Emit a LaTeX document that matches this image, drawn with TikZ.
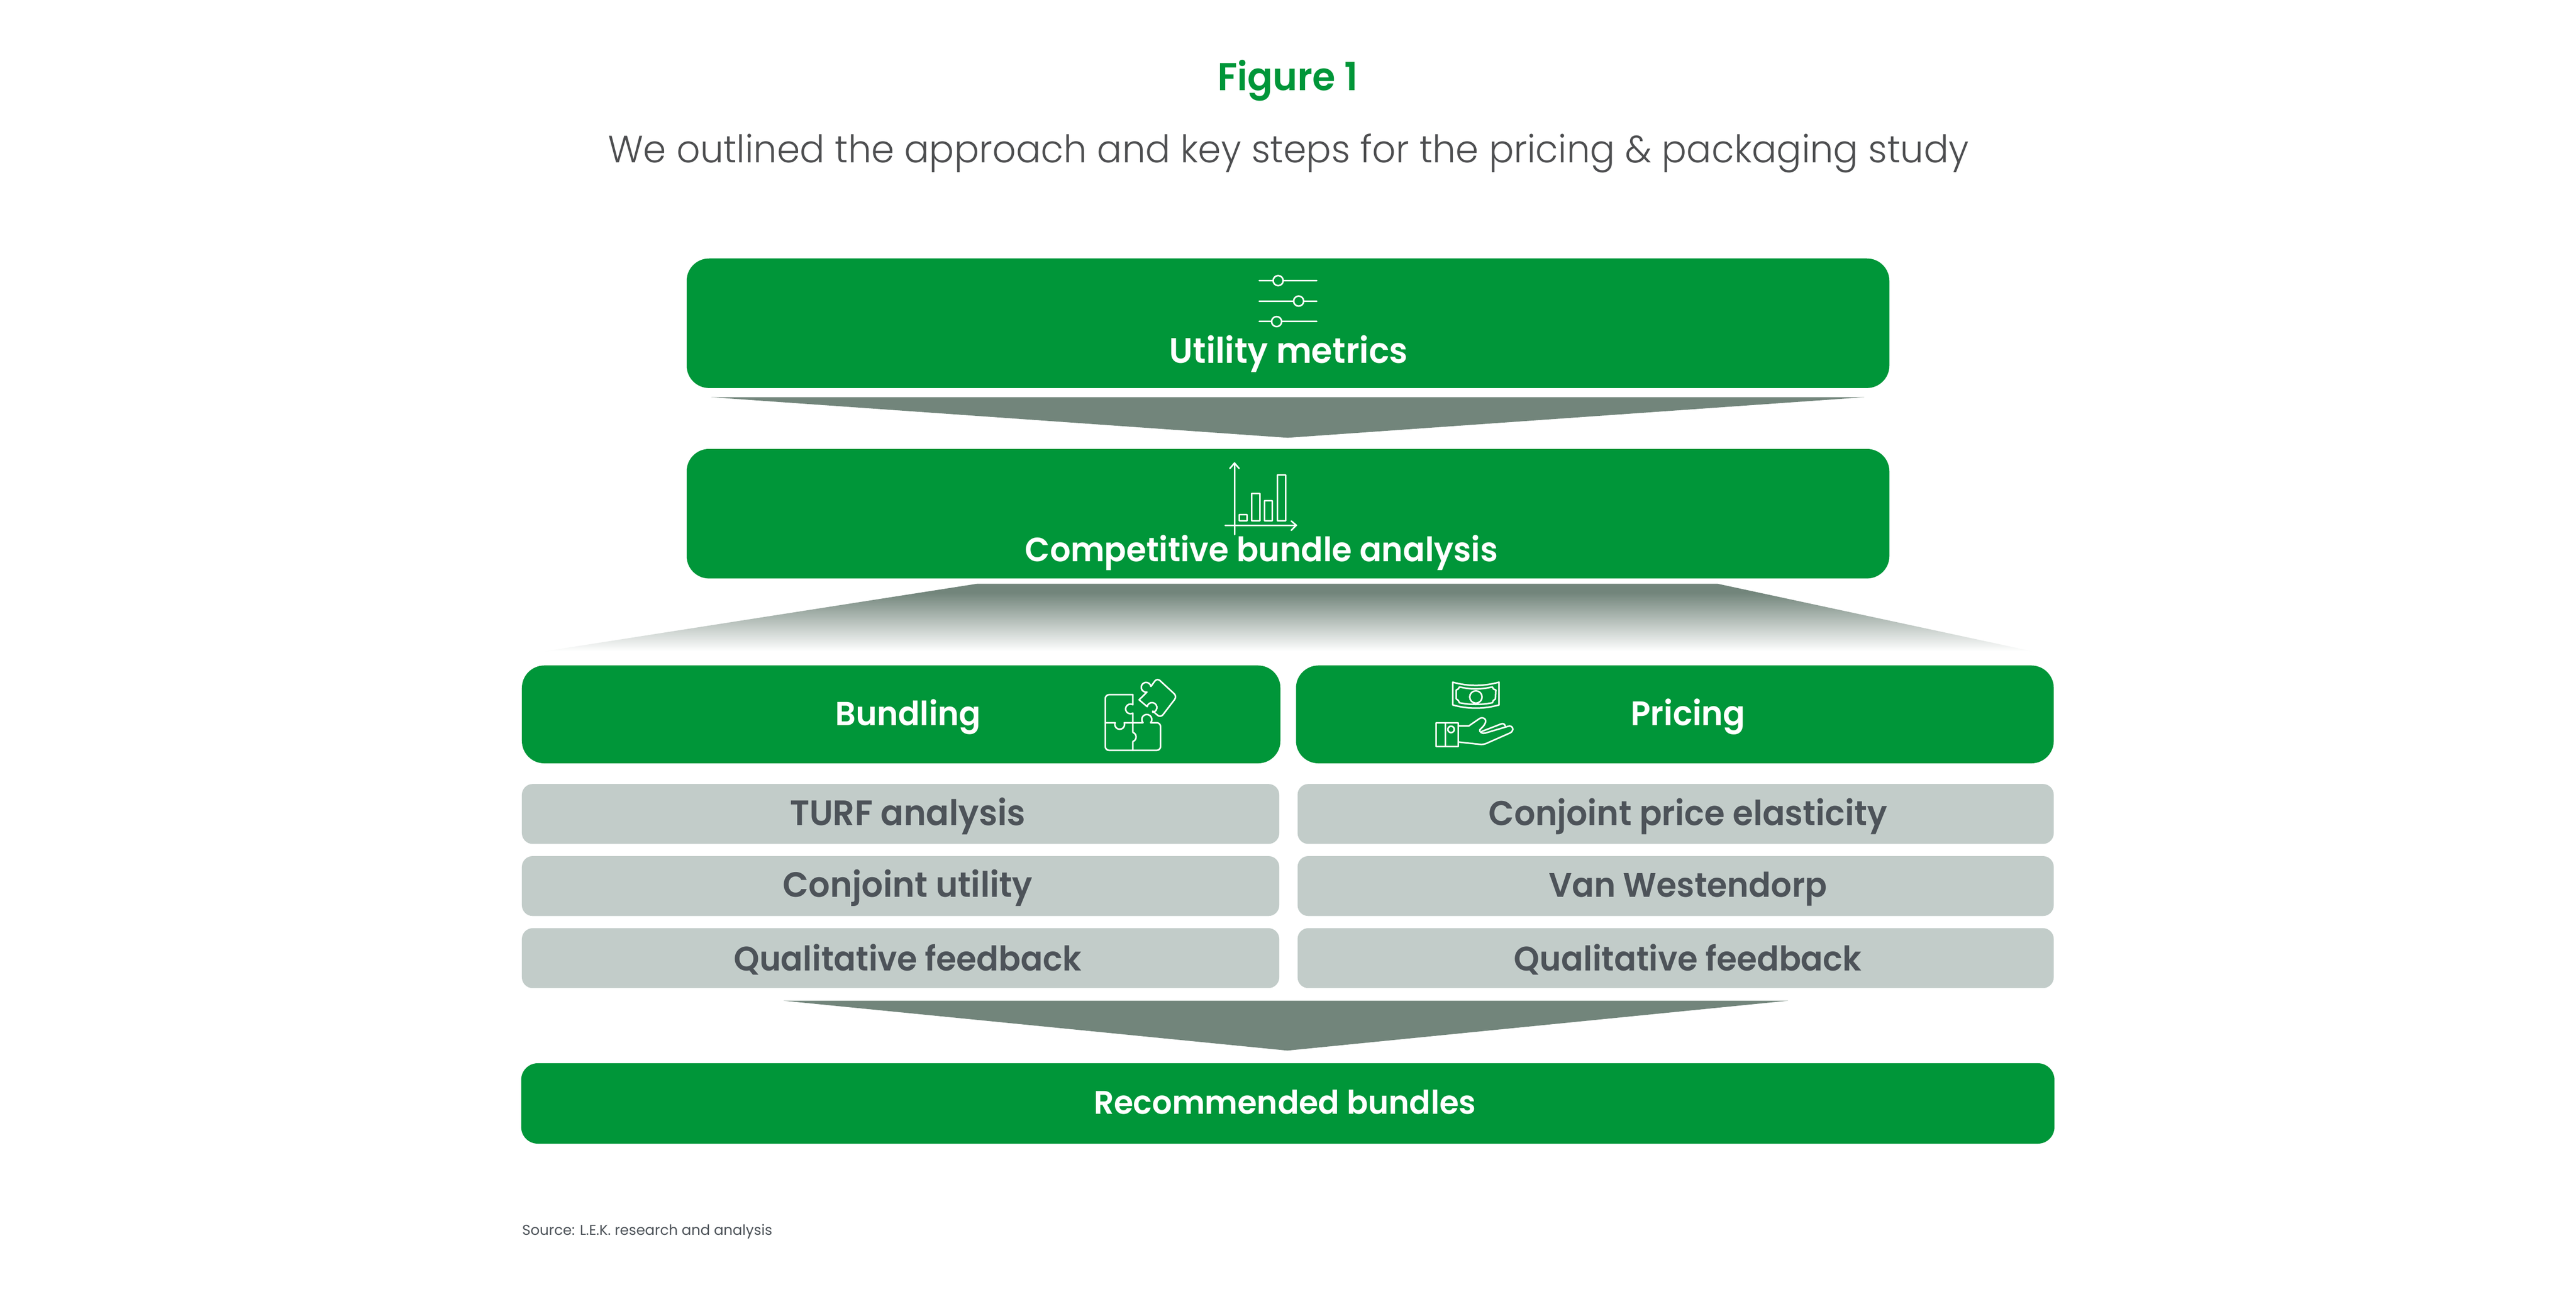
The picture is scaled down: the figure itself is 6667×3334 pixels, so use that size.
\documentclass[tikz,border=0pt]{standalone}
\usepackage{fontspec}
\setmainfont{Poppins}[BoldFont={Poppins SemiBold}]
\newfontfamily\labelfont{Poppins SemiBold}[FakeStretch=0.96]
\newfontfamily\subfont{Poppins Light}[FakeStretch=0.97]
\usepackage{xcolor}
\usetikzlibrary{positioning,calc}
\definecolor{lekgreen}{RGB}{0,150,57}
\definecolor{lekgrey}{RGB}{194,204,201}
\definecolor{lekdark}{RGB}{77,83,89}
\definecolor{leksub}{RGB}{77,78,80}
\definecolor{lekfunnel}{RGB}{114,133,123}
\pgfdeclareverticalshading{funnelfade}{100bp}{color(0bp)=(white); color(25bp)=(white); color(68.4bp)=(lekfunnel); color(100bp)=(lekfunnel)}
\tikzset{
	greenbox/.style={fill=lekgreen,rounded corners=0.58cm,inner sep=0pt},
	greyleft/.style={fill=lekgrey,rounded corners=0.28cm,inner sep=0pt,minimum width=19.59cm,minimum height=1.55cm},
	greyright/.style={greyleft,minimum width=19.56cm},
	boxtext/.style={white,font=\fontsize{#1}{30}\selectfont\labelfont,anchor=base,inner sep=0pt},
	boxtext/.default=25,
	greytext/.style={boxtext=#1,text=lekdark},
	greytext/.default=25,
	iconline/.style={draw=white,line width=0.04cm,line cap=round,line join=round},
}
\begin{document}
\begin{tikzpicture}[x=0.01cm,y=-0.01cm]
		\useasboundingbox (0,0) rectangle (6667,3334);
		
		\node[anchor=base,inner sep=0pt,text=lekgreen,font=\fontsize{28.6}{32}\selectfont\labelfont] (fig) at (3333,234) {Figure 1};
		\node[anchor=base,inner sep=0pt,text=leksub,font=\fontsize{28}{34}\selectfont\subfont] (sub) at (3335,421) {We outlined the approach and key steps for the pricing \& packaging study};
		
		\node[greenbox,minimum width=31.11cm,minimum height=3.35cm,anchor=north] (util) at (3333.5,668) {};
		\node[greenbox,below=1.56cm of util,minimum width=31.11cm,minimum height=3.35cm] (comp) {};
		\node[greenbox,minimum width=19.62cm,minimum height=2.53cm,anchor=north west] (bund) at (1350,1721) {};
		\node[greenbox,minimum width=19.6cm,minimum height=2.53cm,anchor=north east] (pric) at (5316,1721) {};
		
		\node[greyleft,below=0.52cm of bund.south west,anchor=north west] (turf) {};
		\node[greyleft,below=0.3cm of turf] (conj) {};
		\node[greyleft,below=0.3cm of conj] (qual) {};
		\node[greyright,below=0.52cm of pric.south east,anchor=north east] (elas) {};
		\node[greyright,below=0.3cm of elas] (west) {};
		\node[greyright,below=0.3cm of west] (qua2) {};
		
		\node[greenbox,rounded corners=0.43cm,minimum width=39.66cm,minimum height=2.08cm,anchor=north] (reco) at (3333,2750) {};
		
		% funnels between the rows
		\fill[lekfunnel] ($(util.south west)+(64,23)$)--($(util.south east)+(-65,23)$)--($(util.south)+(-1,128)$)--cycle;
		\path[shading=funnelfade] ($(comp.south)+(-805,13)$)--($(comp.south)+(1112,13)$)--($(comp.south)+(1928,188)$)--($(comp.south)+(-1926,188)$)--cycle;
		\fill[lekfunnel] (2028,2589)--(4628,2589)--(3332,2718)--cycle;
		
		\node[boxtext=26] (tutil) at (3335,940) {Utility metrics};
		\node[boxtext=24.8] (tcomp) at (3265,1453) {Competitive bundle analysis};
		\node[boxtext=24.5,shift={(18,29)}] (tbund) at (bund.center) {Bundling};
		\node[boxtext,shift={(34,29)}] (tpric) at (pric.center) {Pricing};
		\node[greytext=26,shift={(18.5,29)}] (tturf) at (turf.center) {TURF analysis};
		\node[greytext=25.8,shift={(18.5,29)}] (tconj) at (conj.center) {Conjoint utility};
		\node[greytext,shift={(18.5,33)}] (tqual) at (qual.center) {Qualitative feedback};
		\node[greytext=25.4,shift={(32,29)}] (telas) at (elas.center) {Conjoint price elasticity};
		\node[greytext,shift={(32,29)}] (twest) at (west.center) {Van Westendorp};
		\node[greytext,shift={(32,33)}] (tqua2) at (qua2.center) {Qualitative feedback};
		\node[boxtext=24,shift={(-7.5,28)}] (treco) at (reco.center) {Recommended bundles};
		
		\node[anchor=base west,inner sep=0pt,text=lekdark,font=\fontsize{10.5}{12}\selectfont] (src) at (1351,3196) {Source: L.E.K. research and analysis};
		
		% sliders
		\foreach \y/\x in {726/3308,779/3361,832/3304}{
			\draw[iconline] (3259,\y)--(\x-13,\y);
			\draw[iconline] (\x+13,\y)--(3408,\y);
			\draw[iconline] (\x,\y) circle (13);
		}
		
		% bar chart
		\draw[iconline] (3195,1198)--(3195,1383);
		\draw[iconline] (3171,1359)--(3355,1359);
		\draw[iconline] (3183,1212)--(3195,1198)--(3207,1212);
		\draw[iconline] (3342,1348)--(3355,1359)--(3342,1372);
		\foreach \xa/\xb/\ya in {3207/3228/1331,3240/3261/1277,3273/3293/1296,3306/3327/1229}{
			\draw[iconline] (\xa,\ya) rectangle (\xb,1347);
		}
		
		% puzzle
		\begin{scope}[shift={(2780,1720)},x=0.00333cm,y=-0.00333cm]
			\draw[iconline,rounded corners=0.1cm] (457,232)--(242,232)--(242,665)--(672,665)--(672,450)--(595,450);
			\draw[iconline] (595,450) arc[start angle=40,end angle=-220,radius=39]--(390,450) arc[start angle=-20,end angle=200,radius=38]--(242,450);
			\draw[iconline] (457,232)--(457,310) arc[start angle=-60,end angle=-300,radius=38]--(457,525) arc[start angle=-70,end angle=70,radius=38]--(457,665);
			\draw[iconline,rounded corners=0.1cm] (612,360)--(672,412)--(800,245)--(645,102)--(597,168);
			\draw[iconline] (597,168) arc[start angle=-10,end angle=-280,radius=38]--(505,272)--(568,325) arc[start angle=-170,end angle=80,radius=38]--(612,360);
		\end{scope}
		
		% money and hand
		\begin{scope}[shift={(3640,1720)},x=0.00333cm,y=-0.00333cm]
			\draw[iconline] (360,135) .. controls (480,168) and (600,168) .. (720,135)--(720,312) .. controls (600,345) and (480,345) .. (360,312)--cycle;
			\draw[iconline] (412,172) .. controls (500,192) and (580,192) .. (668,172) .. controls (670,185) and (680,192) .. (695,195)--(692,265) .. controls (680,270) and (670,282) .. (668,295) .. controls (580,312) and (500,312) .. (412,295) .. controls (408,282) and (400,270) .. (388,265)--(388,195) .. controls (400,192) and (408,185) .. (412,172);
			\draw[iconline] (540,250) circle (48);
			\draw[iconline] (230,450) rectangle (403,635);
			\draw[iconline] (302,450)--(302,635);
			\draw[iconline] (347,502) circle (25);
			\draw[iconline] (403,475)--(485,475)--(565,420) .. controls (590,400) and (630,420) .. (612,455) .. controls (600,480) and (585,490) .. (570,505) .. controls (565,520) and (590,540) .. (615,530)--(790,478) .. controls (825,465) and (845,510) .. (805,530)--(635,605) .. controls (610,618) and (590,620) .. (570,618)--(403,600);
			\draw[iconline] (585,518)--(735,460) .. controls (750,452) and (765,460) .. (768,475);
		\end{scope}
	\end{tikzpicture}
\end{document}
